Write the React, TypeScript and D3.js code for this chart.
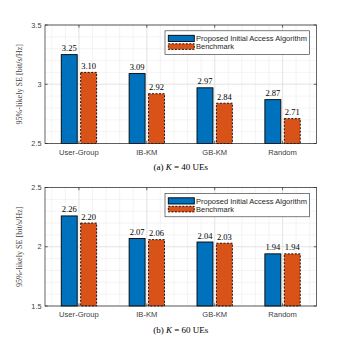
import React from "react";
import * as d3 from "d3";

const categories = ["User-Group", "IB-KM", "GB-KM", "Random"];
const proposed40 = [3.25, 3.09, 2.97, 2.87];
const benchmark40 = [3.1, 2.92, 2.84, 2.71];
const proposed60 = [2.26, 2.07, 2.04, 1.94];
const benchmark60 = [2.2, 2.06, 2.03, 1.94];
const yTicks40 = [2.5, 3, 3.5];
const yTicks60 = [1.5, 2, 2.5];
const seriesNames = ["Proposed Initial Access Algorithm", "Benchmark"];
const captions = [
  { tag: "(a)", k: "40" },
  { tag: "(b)", k: "60" },
];

const BLUE = "#0072BD";
const ORANGE = "#D95319";
const AX = "#262626";
const SANS = "'Liberation Sans', Arial, sans-serif";
const SERIF = "'Liberation Serif', 'DejaVu Serif', serif";

type PanelProps = {
  top: number;
  a: number[];
  b: number[];
  ticks: number[];
  caption: { tag: string; k: string };
};

function Panel({ top, a, b, ticks, caption }: PanelProps) {
  const left = 45;
  const right = 316.5;
  const h = 118.5;
  const bottom = top + h;
  const x = d3.scaleLinear().domain([0.5, categories.length + 0.5]).range([left, right]);
  const y = d3.scaleLinear().domain([ticks[0], ticks[ticks.length - 1]]).range([bottom, top]);
  const minorY = d3.range(ticks[0], ticks[ticks.length - 1] + 1e-9, 0.1);
  const minorX = d3.range(0.6, categories.length + 0.5, 0.2);
  const bw = x(0.235) - x(0);
  const off = x(0.143) - x(0);
  const lgL = 165;
  const lgR = 309.5;
  const lgT = top + 5.8;
  const lgH = 23.5;
  return (
    <g>
      {minorY.map((v, i) => (
        <line key={"my" + i} x1={left} x2={right} y1={y(v)} y2={y(v)} stroke="#ececec" strokeWidth={0.6} />
      ))}
      {minorX.map((v, i) => (
        <line key={"mx" + i} x1={x(v)} x2={x(v)} y1={top} y2={bottom} stroke="#ececec" strokeWidth={0.6} />
      ))}
      {ticks.map((v, i) => (
        <line key={"gy" + i} x1={left} x2={right} y1={y(v)} y2={y(v)} stroke="#dcdcdc" strokeWidth={0.6} />
      ))}
      {categories.map((c, i) => (
        <line key={"gx" + i} x1={x(i + 1)} x2={x(i + 1)} y1={top} y2={bottom} stroke="#dcdcdc" strokeWidth={0.6} />
      ))}
      {a.map((v, i) => (
        <g key={"a" + i}>
          <rect x={x(i + 1) - off - bw / 2} y={y(v)} width={bw} height={bottom - y(v)} fill={BLUE} stroke="#000" strokeWidth={0.9} />
          <text x={x(i + 1) - off} y={y(v) - 3.5} textAnchor="middle" fontFamily={SERIF} fontSize={8.5} fill="#000">
            {v.toFixed(2)}
          </text>
        </g>
      ))}
      {b.map((v, i) => (
        <g key={"b" + i}>
          <rect x={x(i + 1) + off - bw / 2} y={y(v)} width={bw} height={bottom - y(v)} fill={ORANGE} stroke="#000" strokeWidth={0.9} strokeDasharray="2,1.5" />
          <text x={x(i + 1) + off} y={y(v) - 3.5} textAnchor="middle" fontFamily={SERIF} fontSize={8.5} fill="#000">
            {v.toFixed(2)}
          </text>
        </g>
      ))}
      <rect x={left} y={top} width={right - left} height={h} fill="none" stroke={AX} strokeWidth={0.7} />
      {ticks.map((v, i) => (
        <g key={"t" + i}>
          <line x1={left} x2={left + 2.7} y1={y(v)} y2={y(v)} stroke={AX} strokeWidth={0.7} />
          <line x1={right} x2={right - 2.7} y1={y(v)} y2={y(v)} stroke={AX} strokeWidth={0.7} />
          <text x={left - 3.5} y={y(v) + 2.6} textAnchor="end" fontFamily={SANS} fontSize={7.3} fill="#404040">
            {String(v)}
          </text>
        </g>
      ))}
      {categories.map((c, i) => (
        <g key={"c" + i}>
          <line x1={x(i + 1)} x2={x(i + 1)} y1={bottom} y2={bottom - 2.7} stroke={AX} strokeWidth={0.7} />
          <line x1={x(i + 1)} x2={x(i + 1)} y1={top} y2={top + 2.7} stroke={AX} strokeWidth={0.7} />
          <text x={x(i + 1)} y={bottom + 11} textAnchor="middle" fontFamily={SANS} fontSize={7.6} fill="#404040">
            {c}
          </text>
        </g>
      ))}
      <text
        transform={`translate(21.5,${(top + bottom) / 2}) rotate(-90)`}
        textAnchor="middle"
        fontFamily={SERIF}
        fontSize={8.1}
        fill="#404040"
      >
        95%-likely SE [bit/s/Hz]
      </text>
      <rect x={lgL} y={lgT} width={lgR - lgL} height={lgH} fill="#fff" stroke={AX} strokeWidth={0.6} />
      <rect x={168.3} y={lgT + 4.5} width={26} height={6.2} fill={BLUE} stroke="#000" strokeWidth={0.9} />
      <rect x={168.3} y={lgT + 13} width={26} height={5.6} fill={ORANGE} stroke="#000" strokeWidth={0.9} strokeDasharray="2,1.5" />
      <text x={196} y={lgT + 10.3} fontFamily={SANS} fontSize={7.5} fill="#262626">
        {seriesNames[0]}
      </text>
      <text x={196} y={lgT + 18.5} fontFamily={SANS} fontSize={7.5} fill="#262626">
        {seriesNames[1]}
      </text>
      <text x={(left + right) / 2} y={bottom + 26.5} textAnchor="middle" fontFamily={SERIF} fontSize={9} fill="#000">
        {caption.tag + " "}
        <tspan fontStyle="italic">K</tspan>
        {" = " + caption.k + " UEs"}
      </text>
    </g>
  );
}

export default function App() {
  return (
    <svg width={350} height={344} style={{ position: "absolute", left: 0, top: 0, background: "#fff" }}>
      <rect width={350} height={344} fill="#fff" />
      <Panel top={25} a={proposed40} b={benchmark40} ticks={yTicks40} caption={captions[0]} />
      <Panel top={187.5} a={proposed60} b={benchmark60} ticks={yTicks60} caption={captions[1]} />
    </svg>
  );
}
